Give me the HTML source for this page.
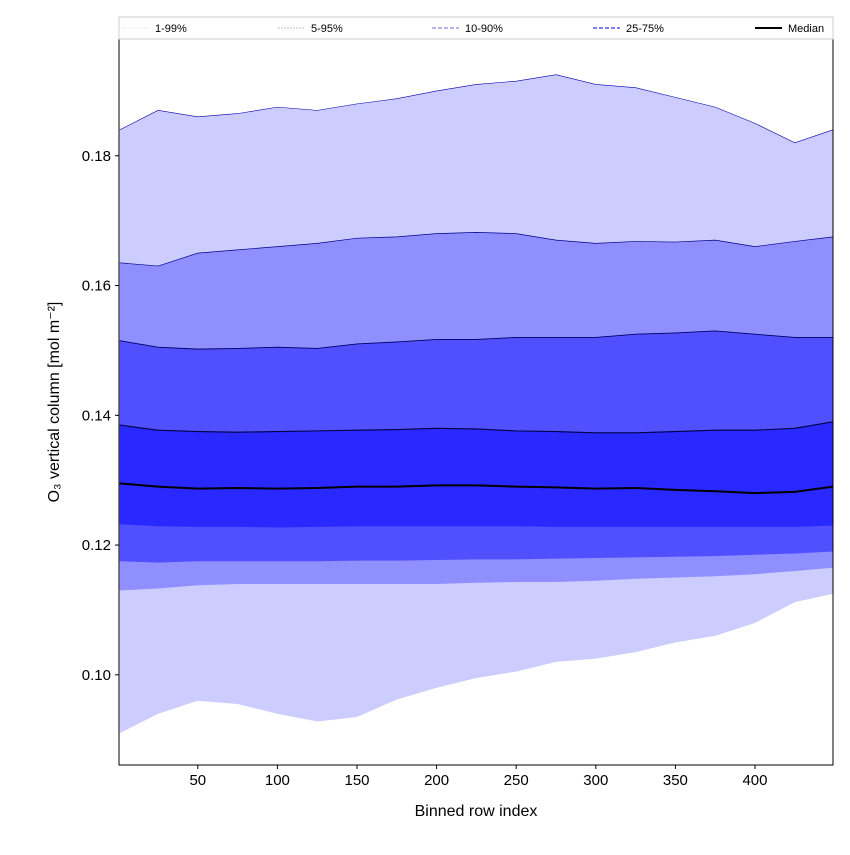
<!DOCTYPE html>
<html><head><meta charset="utf-8"><style>
body{margin:0;background:#fff;}
svg{font-family:"Liberation Sans","DejaVu Sans",sans-serif;}
</style></head><body>
<svg id="chart" width="850" height="850"></svg>
<script>
const xs=[1,25,50,75,100,125,150,175,200,225,250,275,300,325,350,375,400,425,449];
const p1 =[0.091,0.094,0.096,0.0955,0.094,0.0928,0.0935,0.0962,0.098,0.0995,0.1005,0.102,0.1025,0.1035,0.105,0.106,0.108,0.1112,0.1125];
const p5 =[0.113,0.1133,0.1138,0.114,0.114,0.114,0.114,0.114,0.114,0.1142,0.1143,0.1143,0.1145,0.1148,0.115,0.1152,0.1155,0.116,0.1165];
const p10=[0.1175,0.1173,0.1175,0.1175,0.1175,0.1175,0.1176,0.1176,0.1177,0.1178,0.1178,0.1179,0.118,0.1181,0.1182,0.1183,0.1185,0.1187,0.119];
const p25=[0.1232,0.1229,0.1228,0.1228,0.1227,0.1228,0.1229,0.1229,0.1229,0.1229,0.1229,0.1228,0.1228,0.1228,0.1228,0.1228,0.1228,0.1228,0.123];
const p50=[0.1295,0.129,0.1287,0.1288,0.1287,0.1288,0.129,0.129,0.1292,0.1292,0.129,0.1289,0.1287,0.1288,0.1285,0.1283,0.128,0.1282,0.129];
const p75=[0.1385,0.1377,0.1375,0.1374,0.1375,0.1376,0.1377,0.1378,0.138,0.1379,0.1376,0.1375,0.1373,0.1373,0.1375,0.1377,0.1377,0.138,0.139];
const p90=[0.1515,0.1505,0.1502,0.1503,0.1505,0.1503,0.151,0.1513,0.1517,0.1517,0.152,0.152,0.152,0.1525,0.1527,0.153,0.1525,0.152,0.152];
const p95=[0.1635,0.163,0.165,0.1655,0.166,0.1665,0.1673,0.1675,0.168,0.1682,0.168,0.167,0.1665,0.1668,0.1667,0.167,0.166,0.1668,0.1675];
const p99=[0.184,0.187,0.186,0.1865,0.1875,0.187,0.188,0.1888,0.190,0.191,0.1915,0.1925,0.191,0.1905,0.189,0.1875,0.185,0.182,0.184];
const xTicks=[50,100,150,200,250,300,350,400];
const yTicks=[0.10,0.12,0.14,0.16,0.18];
const legendLabels=["1-99%","5-95%","10-90%","25-75%","Median"];

const L=119,R=833,T=39,B=765;
const xMin=0.5,xMax=449,yMin=0.0861,yMax=0.198;
const sx=v=>L+(v-xMin)/(xMax-xMin)*(R-L);
const sy=v=>B-(v-yMin)/(yMax-yMin)*(B-T);
const svg=document.getElementById('chart');
const NS="http://www.w3.org/2000/svg";
function mk(tag,attrs,parent){const e=document.createElementNS(NS,tag);for(const k in attrs)e.setAttribute(k,attrs[k]);(parent||svg).appendChild(e);return e;}
function band(lo,hi,fill,name){
  let d='M'+xs.map((x,i)=>sx(x)+','+sy(hi[i])).join('L');
  for(let i=xs.length-1;i>=0;i--)d+='L'+sx(xs[i])+','+sy(lo[i]);
  const p=mk('path',{d:d+'Z',fill:fill});
  
  
}
function line(arr,stroke,w,name){
  const p=mk('path',{d:'M'+xs.map((x,i)=>sx(x)+','+sy(arr[i])).join('L'),fill:'none',stroke:stroke,'stroke-width':w});
  
  
}
band(p1,p99,'#ccccff','band-1-99');
band(p5,p95,'#8f8fff','band-5-95');
band(p10,p90,'#5050ff','band-10-90');
band(p25,p75,'#2828ff','band-25-75');
line(p99,'#0000aa',0.6,'line-p99');
line(p95,'#000088',0.7,'line-p95');
line(p90,'#000066',0.9,'line-p90');
line(p75,'#000044',1.1,'line-p75');
line(p50,'#000000',2,'median-line');

const frame=mk('rect',{x:L,y:T,width:R-L,height:B-T,fill:'none',stroke:'#000','stroke-width':1});


xTicks.forEach(v=>{
  const x=sx(v);
  mk('line',{x1:x,x2:x,y1:B,y2:B+4,stroke:'#000'});
  const t=mk('text',{x:x,y:B+20,'text-anchor':'middle','font-size':15});
  t.textContent=v;
  
  
});
yTicks.forEach(v=>{
  const y=sy(v);
  mk('line',{x1:L-4,x2:L,y1:y,y2:y,stroke:'#000'});
  const t=mk('text',{x:L-8,y:y+5,'text-anchor':'end','font-size':15});
  t.textContent=v.toFixed(2);
  
  
});
const xt=mk('text',{x:(L+R)/2,y:816,'text-anchor':'middle','font-size':16});
xt.textContent='Binned row index';


const yt=mk('text',{x:0,y:0,'text-anchor':'middle','font-size':16,transform:'translate(59,402) rotate(-90)'});
yt.textContent='O₃ vertical column [mol m⁻²]';



const lg=mk('g',{});


mk('rect',{x:119,y:17,width:714,height:22,fill:'#fff',stroke:'#ccc','stroke-width':1},lg);
const lx=[122,278,432,593,755];
const lcol=['#ddddee','#aaaacc','#8888dd','#5555ff','#000'];
const ldash=['1,1','2,1','4,2','4,2',''];
const lw=[0.8,0.8,1.2,1.5,2];
legendLabels.forEach((s,i)=>{
  const ln=mk('line',{x1:lx[i],x2:lx[i]+27,y1:28,y2:28,stroke:lcol[i],'stroke-width':lw[i],'stroke-dasharray':ldash[i]},lg);
  const t=mk('text',{x:lx[i]+33,y:32,'font-size':11},lg);
  t.textContent=s;
  
  
});
</script>
</body></html>
